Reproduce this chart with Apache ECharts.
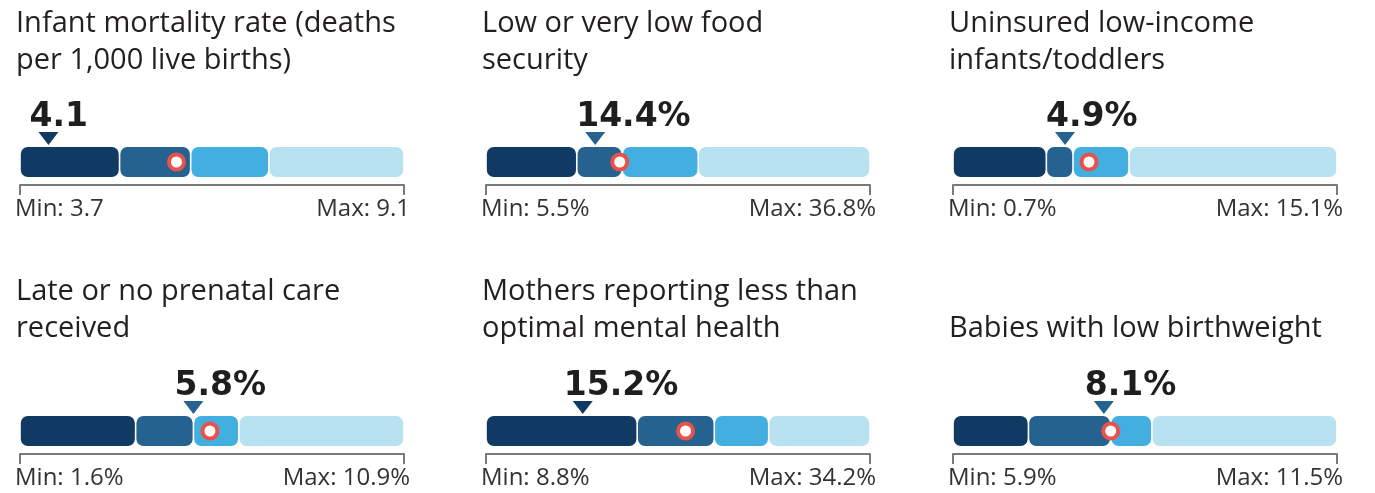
<!DOCTYPE html>
<html>
<head>
<meta charset="utf-8">
<script src="https://cdn.jsdelivr.net/npm/echarts@6/dist/echarts.min.js"></script>
<style>
  html, body { margin: 0; padding: 0; background: #fff; }
  #chart { width: 1375px; height: 493px; }
</style>
</head>
<body>
<div id="chart"></div>
<script>
//////////// data ////////////
var titles = [
	'Infant mortality rate (deaths\nper 1,000 live births)',
	'Low or very low food\nsecurity',
	'Uninsured low-income\ninfants/toddlers',
	'Late or no prenatal care\nreceived',
	'Mothers reporting less than\noptimal mental health',
	'Babies with low birthweight'
];
var units = ['', '%', '%', '%', '%', '%'];
var mins = [3.7, 5.5, 0.7, 1.6, 8.8, 5.9];
var maxs = [9.1, 36.8, 15.1, 10.9, 34.2, 11.5];
// inner break points between the 4 colour bands
var breaks = [
	[5.1, 6.1, 7.2],
	[12.9, 16.6, 22.8],
	[4.2, 5.2, 7.3],
	[4.4, 5.8, 6.9],
	[18.8, 23.9, 27.5],
	[7.0, 8.2, 8.8]
];
var values = [4.1, 14.4, 4.9, 5.8, 15.2, 8.1];
var averages = [5.9, 16.4, 5.8, 6.2, 22.0, 8.2];

var bandColors = ['#103a63', '#256290', '#43aee0', '#b8e1f2'];
var ringColor = '#e9524a';

//////////// layout ////////////
var colLeft = [20, 486, 953];
var barWidth = 384;
var rowBarTop = [147, 416];
var rowTitleTop = [5, 273];
var titleLine = 37;
var font = '"Open Sans", sans-serif';

function renderSegment(params, api) {
	var y = api.value(2);
	var p0 = api.coord([api.value(0), y]);
	var p1 = api.coord([api.value(1), y]);
	var h = api.size([0, 1])[1];
	return {
		type: 'rect',
		shape: { x: p0[0] + 0.8, y: p0[1] - h / 2, width: p1[0] - p0[0] - 1.6, height: h, r: 7 },
		style: { fill: bandColors[api.value(3)] }
	};
}

function bandIndex(i, v) {
	var b = breaks[i];
	for (var k = 0; k < b.length; k++) {
		if (v <= b[k]) return k;
	}
	return b.length;
}

var option = {
	animation: false,
	backgroundColor: '#fff',
	title: [],
	grid: [],
	xAxis: [],
	yAxis: [],
	series: []
};

for (var i = 0; i < 6; i++) {
	var row = Math.floor(i / 3), col = i % 3;
	var lines = titles[i].split('\n').length;

	option.title.push({
		text: titles[i],
		left: colLeft[col] - 4,
		top: rowTitleTop[row] + (2 - lines) * titleLine,
		padding: 0,
		textStyle: { fontFamily: font, fontSize: 29, fontWeight: 'normal', color: '#231f20', lineHeight: titleLine }
	});

	option.grid.push({ left: colLeft[col], top: rowBarTop[row], width: barWidth, height: 30 });

	(function (min, max, unit) {
		option.xAxis.push({
			gridIndex: i,
			type: 'value',
			min: min,
			max: max,
			offset: 8,
			splitLine: { show: false },
			axisLine: { show: true, lineStyle: { color: '#7a7a7a', width: 2 } },
			axisTick: { show: true, customValues: [min, max], length: 10, lineStyle: { color: '#7a7a7a', width: 2 } },
			axisLabel: {
				customValues: [min, max],
				alignMinLabel: 'left',
				alignMaxLabel: 'right',
				margin: 12,
				padding: [0, -6, 0, -5],
				fontFamily: font,
				fontSize: 24,
				color: '#333',
				formatter: function (v) {
					return (v === min ? 'Min: ' : 'Max: ') + v.toFixed(1) + unit;
				}
			}
		});
	})(mins[i], maxs[i], units[i]);

	option.yAxis.push({ gridIndex: i, type: 'category', data: [''], show: false });

	// colour bands
	var edges = [mins[i]].concat(breaks[i]).concat([maxs[i]]);
	var segData = [];
	for (var k = 0; k < 4; k++) segData.push([edges[k], edges[k + 1], 0, k]);
	option.series.push({
		type: 'custom',
		xAxisIndex: i,
		yAxisIndex: i,
		renderItem: renderSegment,
		encode: { x: [0, 1], y: 2 },
		data: segData,
		z: 1
	});

	// comparison circle
	option.series.push({
		type: 'scatter',
		xAxisIndex: i,
		yAxisIndex: i,
		symbol: 'circle',
		symbolSize: 15,
		itemStyle: { color: '#fff', borderColor: ringColor, borderWidth: 4, opacity: 1 },
		data: [[averages[i], 0]],
		z: 3
	});

	// value marker + label
	(function (unit) {
		option.series.push({
			type: 'scatter',
			xAxisIndex: i,
			yAxisIndex: i,
			symbol: 'path://M0,0L20,0L10,13Z',
			symbolSize: [20, 13],
			symbolOffset: [0, -23.5],
			itemStyle: { color: bandColors[bandIndex(i, values[i])], opacity: 1 },
			label: {
				show: true,
				position: 'top',
				align: 'left',
				distance: 0,
				offset: [-19, 2],
				fontFamily: '"DejaVu Sans", sans-serif',
				fontWeight: 'bold',
				fontSize: 33,
				color: '#1e1e1e',
				formatter: function (p) { return p.value[0].toFixed(1) + unit; }
			},
			data: [[values[i], 0]],
			z: 4
		});
	})(units[i]);
}

var chart = echarts.init(document.getElementById('chart'));
chart.setOption(option);
</script>
</body>
</html>
